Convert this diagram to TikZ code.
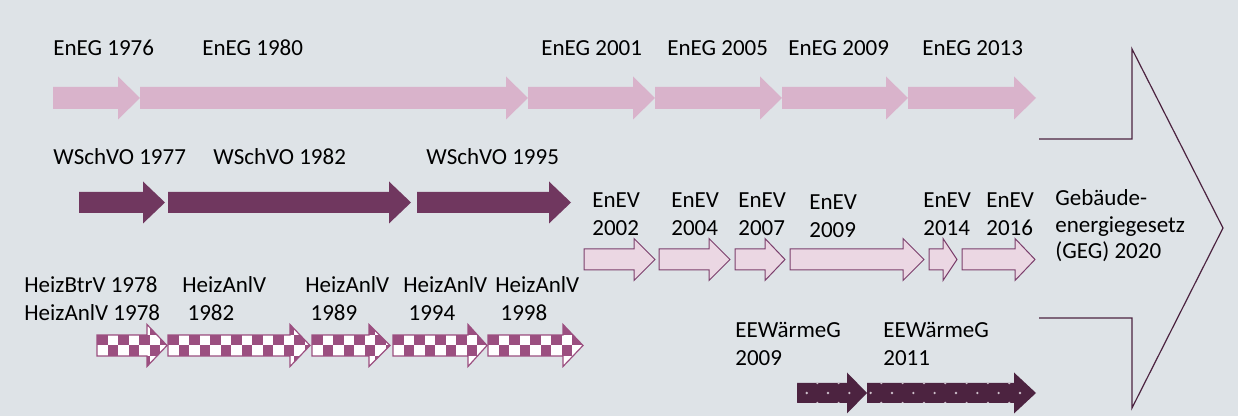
\documentclass[tikz,border=0pt]{standalone}
\usepackage{fontspec}
\setmainfont{Carlito}
\definecolor{bgc}{HTML}{DEE3E7}
\definecolor{enegc}{HTML}{D9B3CB}
\definecolor{wschc}{HTML}{70375F}
\definecolor{enevfill}{HTML}{EBD7E3}
\definecolor{enevline}{HTML}{7B3F6C}
\definecolor{chkc}{HTML}{9B4F80}
\definecolor{eewc}{HTML}{4C2340}
\definecolor{dotc}{HTML}{CDBFCA}
\newcommand{\arr}[6]{(#1,#4-#5) -- (#3,#4-#5) -- (#3,#4-#6) -- (#2,#4) -- (#3,#4+#6) -- (#3,#4+#5) -- (#1,#4+#5) -- cycle}
\newcommand{\checkarrow}[3]{%
  \begin{scope}
    \clip \arr{#1}{#2}{#3}{345.5}{10.5}{21};
    \fill[white] (#1,320) rectangle (#2,370);
    \foreach \i in {0,...,14}{%
      \foreach \j in {0,...,3}{%
        \pgfmathtruncatemacro{\p}{\i+\j}%
        \ifodd\p\relax
          \fill[chkc] ({#1+\i*10.5},{324.5+\j*10.5}) rectangle ++(10.5,10.5);
        \fi
      }%
    }
  \end{scope}
  \draw[chkc, line width=0.6pt, line join=miter] \arr{#1}{#2}{#3}{345.5}{10.5}{21};
}
\tikzset{
  lbl/.style={font=\fontsize{11.5}{14}\selectfont, inner sep=0pt, anchor=base west, align=left, text=black},
}
\begin{document}
\begin{tikzpicture}[x=0.5pt,y=-0.5pt]
\fill[bgc] (0,0) rectangle (1238,416);
\useasboundingbox (0,0) rectangle (1238,416);

% Row 1: EnEG
\foreach \a/\b/\c in {53/140/118, 140/528/506, 528/655/633, 655/782/760, 782/908/886, 908/1036/1014}{
  \fill[enegc] \arr{\a}{\b}{\c}{98}{11}{21.5};
}
\node[lbl] (eneg76) at (53,56) {EnEG 1976};
\node[lbl] (eneg80) at (202,56) {EnEG 1980};
\node[lbl] (eneg01) at (541,56) {EnEG 2001};
\node[lbl] (eneg05) at (667,56) {EnEG 2005};
\node[lbl] (eneg09) at (788,56) {EnEG 2009};
\node[lbl] (eneg13) at (922,56) {EnEG 2013};

% Row 2: WSchVO
\foreach \a/\b/\c in {79/165/143, 168/411/389, 417/571/549}{
  \fill[wschc] \arr{\a}{\b}{\c}{202.5}{10.5}{21};
}
\node[lbl] (w77) at (53,165) {WSchVO 1977};
\node[lbl] (w82) at (213,165) {WSchVO 1982};
\node[lbl] (w95) at (426,165) {WSchVO 1995};

% Row 3: EnEV
\foreach \a/\b/\c in {584/655/634, 659/730/709, 735/785/765, 790/924/903, 929/957/943, 962/1035/1015}{
  \filldraw[fill=enevfill, draw=enevline, line width=0.5pt] \arr{\a}{\b}{\c}{259.5}{10.5}{21};
}
\node[lbl] (ev02) at (592,236) {EnEV\\2002};
\node[lbl] (ev04) at (671,236) {EnEV\\2004};
\node[lbl] (ev07) at (738,236) {EnEV\\2007};
\node[lbl] (ev09) at (809,238) {EnEV\\2009};
\node[lbl] (ev14) at (923,236) {EnEV\\2014};
\node[lbl] (ev16) at (986,236) {EnEV\\2016};

% Row 4: Heizung
\checkarrow{97}{167}{147}
\checkarrow{168}{310}{290}
\checkarrow{312}{390}{369}
\checkarrow{393}{487}{468}
\checkarrow{488}{583}{563}
\node[lbl] (h78) at (24,321) {HeizBtrV 1978\\HeizAnlV 1978};
\node[lbl] (h82) at (182,321) {HeizAnlV\\~1982};
\node[lbl] (h89) at (305,321) {HeizAnlV\\~1989};
\node[lbl] (h94) at (403,321) {HeizAnlV\\~1994};
\node[lbl] (h98) at (495,321) {HeizAnlV\\~1998};

% Row 5: EEWaermeG
\fill[eewc] \arr{797}{867}{847}{393}{10}{20.5};
\fill[eewc] \arr{867}{1036}{1014}{393}{10}{20.5};
\begin{scope}
  \clip \arr{797}{867}{847}{393}{10}{20.5} \arr{867}{1036}{1014}{393}{10}{20.5};
  \foreach \k in {-1,...,11}{
    \foreach \yy in {373,393,413}{
      \fill[dotc] ({806.7+\k*21.33},\yy) circle[radius=1.3];
    }
    \foreach \yy in {383,403}{
      \fill[dotc] ({817.3+\k*21.33},\yy) circle[radius=1.3];
    }
  }
\end{scope}
\node[lbl] (ee09) at (735,366) {EEWärmeG\\2009};
\node[lbl] (ee11) at (883,366) {EEWärmeG\\2011};

% Big arrow
\draw[eewc, line width=0.6pt, line join=miter] (1039,139) -- (1132,139) -- (1132,49) -- (1223,228) -- (1132,408) -- (1132,318) -- (1039,318);
\node[lbl, font=\fontsize{11.5}{13.3}\selectfont] (geg) at (1055,259) {Gebäude-\\energiegesetz\\(GEG) 2020};
\end{tikzpicture}
\end{document}
